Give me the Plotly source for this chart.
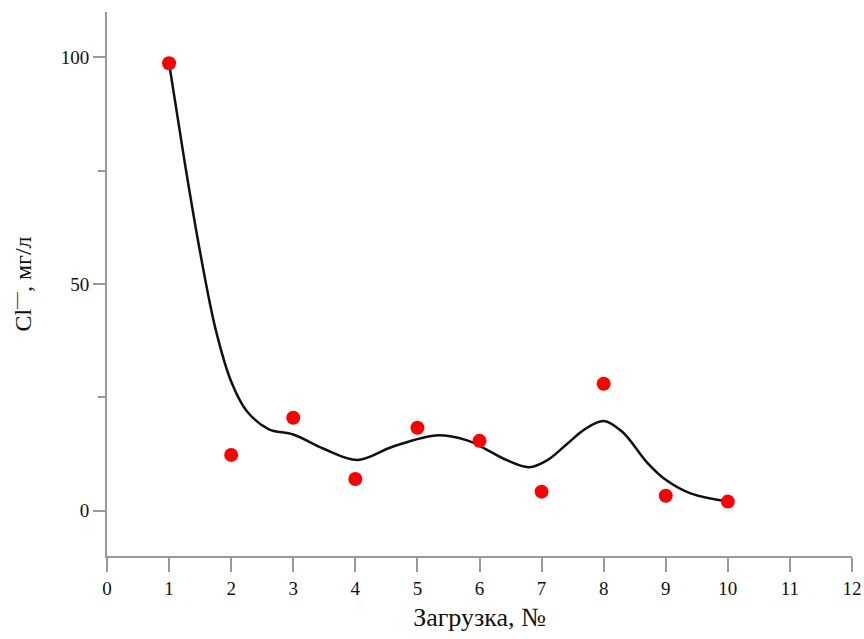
import plotly.graph_objects as go

# Measured points
load_no = [1, 2, 3, 4, 5, 6, 7, 8, 9, 10]
cl_mg_l = [98.7, 12.3, 20.5, 7.0, 18.3, 15.4, 4.2, 28.0, 3.3, 2.0]

# Smoothed fit curve
curve_x = [1.0, 1.25, 1.5, 1.75, 2.0, 2.25, 2.6, 3.0, 3.5, 4.03, 4.6, 5.3,
           5.8, 6.1, 6.4, 6.8, 7.1, 7.4, 7.7, 8.0, 8.3, 8.7, 9.0, 9.4, 10.0]
curve_y = [98.7, 77.0, 57.0, 40.0, 28.5, 22.0, 18.0, 16.8, 13.6, 11.2, 14.1, 16.6,
           15.5, 13.6, 11.4, 9.6, 11.2, 14.6, 18.0, 19.8, 17.4, 10.6, 6.8, 3.8, 2.0]

x_ticks = list(range(0, 13))
y_ticks = [0, 50, 100]

fig = go.Figure()
fig.add_trace(go.Scatter(x=curve_x, y=curve_y, mode="lines",
                         line=dict(color="#111111", width=2.5, shape="spline", smoothing=1.0),
                         showlegend=False, hoverinfo="skip"))
fig.add_trace(go.Scatter(x=load_no, y=cl_mg_l, mode="markers",
                         marker=dict(color="#ff0000", size=14),
                         showlegend=False))

axis_font = dict(family="Liberation Serif", size=19, color="#111111")
title_font = dict(family="Liberation Serif", size=26, color="#111111")
fig.update_layout(
    width=864, height=639,
    margin=dict(l=107, r=12, t=12, b=83, autoexpand=False),
    paper_bgcolor="white", plot_bgcolor="white",
    font=dict(family="Liberation Serif", color="#111111"),
    xaxis=dict(range=[0, 12], tickvals=x_ticks, ticktext=[str(v) for v in x_ticks],
               automargin=False, ticklabeloverflow="allow",
               showline=True, linecolor="#999999", linewidth=2,
               ticks="outside", ticklen=14, tickwidth=2, tickcolor="#999999",
               showgrid=False, zeroline=False, tickfont=axis_font,
               title=dict(text="Загрузка, №", font=title_font, standoff=10)),
    yaxis=dict(range=[-10, 110], tickvals=y_ticks, ticktext=[str(v) for v in y_ticks],
               automargin=False,
               showline=True, linecolor="#999999", linewidth=2,
               ticks="outside", ticklen=12, tickwidth=2, tickcolor="#999999",
               minor=dict(tickvals=[25, 75], ticks="outside", ticklen=7, tickwidth=2, tickcolor="#999999", showgrid=False),
               showgrid=False, zeroline=False, tickfont=axis_font,
               title=dict(text="Cl<sup>—</sup>, мг/л", font=dict(family="Liberation Serif", size=24, color="#111111"), standoff=22)),
)

fig.write_html("out.html")
